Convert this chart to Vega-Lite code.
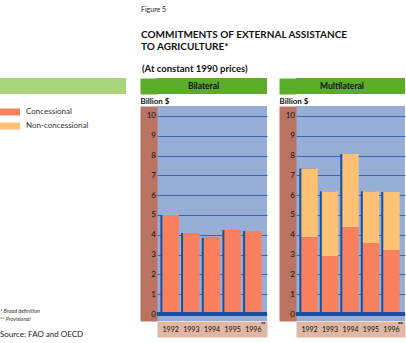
{
  "$schema": "https://vega.github.io/schema/vega-lite/v6.json",
  "padding": {"top": 5, "left": 0, "right": 0, "bottom": 0},
  "autosize": {"type": "pad"},
  "background": "white",
  "config": {
    "font": "Lato",
    "view": {"stroke": null},
    "text": {"font": "Lato"}
  },
  "title": {
    "text": "Figure 5",
    "subtitle": ["COMMITMENTS OF EXTERNAL ASSISTANCE", "TO AGRICULTURE*"],
    "anchor": "start",
    "frame": "group",
    "dx": 141,
    "font": "Lato",
    "fontSize": 7,
    "fontWeight": "normal",
    "color": "#222222",
    "subtitleFont": "Lato",
    "subtitleFontSize": 10,
    "subtitleFontWeight": "bold",
    "subtitleColor": "#111111",
    "subtitleLineHeight": 12.7,
    "subtitlePadding": 17,
    "offset": 11
  },
  "datasets": {
    "aid": [
      {"type": "Bilateral", "year": "1992", "kind": "Concessional", "value": 5.0},
      {"type": "Bilateral", "year": "1993", "kind": "Concessional", "value": 4.09},
      {"type": "Bilateral", "year": "1994", "kind": "Concessional", "value": 3.85},
      {"type": "Bilateral", "year": "1995", "kind": "Concessional", "value": 4.24},
      {"type": "Bilateral", "year": "1996", "kind": "Concessional", "value": 4.19},
      {"type": "Multilateral", "year": "1992", "kind": "Concessional", "value": 3.89},
      {"type": "Multilateral", "year": "1993", "kind": "Concessional", "value": 2.93},
      {"type": "Multilateral", "year": "1994", "kind": "Concessional", "value": 4.39},
      {"type": "Multilateral", "year": "1995", "kind": "Concessional", "value": 3.59},
      {"type": "Multilateral", "year": "1996", "kind": "Concessional", "value": 3.23},
      {"type": "Multilateral", "year": "1992", "kind": "Non-concessional", "value": 3.45},
      {"type": "Multilateral", "year": "1993", "kind": "Non-concessional", "value": 3.27},
      {"type": "Multilateral", "year": "1994", "kind": "Non-concessional", "value": 3.69},
      {"type": "Multilateral", "year": "1995", "kind": "Non-concessional", "value": 2.61},
      {"type": "Multilateral", "year": "1996", "kind": "Non-concessional", "value": 2.93}
    ]
  },
  "spacing": 14,
  "hconcat": [
    {
      "width": 126,
      "height": 16,
      "title": {
        "text": ["*      Broad definition", "**    Provisional"],
        "subtitle": "Source: FAO and OECD",
        "orient": "bottom",
        "anchor": "start",
        "font": "Lato",
        "fontSize": 5.5,
        "fontStyle": "italic",
        "fontWeight": "normal",
        "color": "#333333",
        "lineHeight": 8,
        "offset": 215,
        "subtitleFont": "Lato",
        "subtitleFontSize": 8,
        "subtitleColor": "#222222",
        "subtitlePadding": 8
      },
      "data": {"values": [{"panel": "legend"}]},
      "mark": {"type": "rect", "color": "#a9d67b"},
      "encoding": {}
    },
    {
      "spacing": 10,
      "title": {
        "text": "(At constant 1990 prices)",
        "anchor": "start",
        "frame": "group",
        "dx": -15,
        "offset": 5,
        "font": "Lato",
        "fontSize": 9.5,
        "fontWeight": "bold",
        "color": "#111111"
      },
      "hconcat": [
        {
          "spacing": 3,
          "vconcat": [
            {
              "width": 110,
              "height": 16,
              "view": {"fill": "#5bad29", "stroke": null},
              "data": {"values": [{"panel": "Bilateral"}]},
              "mark": {"type": "text", "fontSize": 8.5, "fontWeight": "bold", "color": "#111111", "dx": -8.5},
              "encoding": {
                "text": {"field": "panel"},
                "y": {"field": "panel", "type": "nominal", "axis": {"title": null, "labels": false, "ticks": false, "grid": false, "domain": true, "domainColor": "#5bad29", "domainWidth": 17, "offset": 8.5}}
              }
            },
            {
              "width": 110,
              "height": 215,
              "view": {"fill": "#97aed6", "stroke": null},
              "data": {"name": "aid"},
              "transform": [{"filter": "datum.type === 'Bilateral'"}],
              "resolve": {"axis": {"x": "independent", "y": "independent"}},
              "layer": [
                {
                  "mark": {"type": "bar", "color": "#1650a0", "xOffset": -2},
                  "encoding": {
                    "x": {
                      "field": "year", "type": "ordinal",
                      "scale": {"paddingInner": 0.2, "paddingOuter": 0.26},
                      "axis": {"orient": "bottom", "title": null, "labels": false, "domain": true, "domainColor": "#dfb8a5", "domainWidth": 16, "offset": 8, "ticks": false, "grid": false}
                    },
                    "y": {
                      "aggregate": "sum", "field": "value", "type": "quantitative",
                      "scale": {"domain": [-0.35, 10.5], "nice": false, "zero": false},
                      "axis": {"orient": "left", "title": "Billion $", "labels": false, "grid": false, "ticks": false, "domain": true, "domainColor": "#bb7363", "domainWidth": 17, "offset": 8.5, "titleAngle": 0, "titleAlign": "left", "titleBaseline": "alphabetic", "titleX": -8.5, "titleY": -3, "titleFontSize": 8, "titleFont": "Lato", "titleFontWeight": "bold", "titleColor": "#111111"}
                    }
                  }
                },
                {
                  "mark": {"type": "bar"},
                  "encoding": {
                    "x": {
                      "field": "year", "type": "ordinal",
                      "axis": {"orient": "bottom", "title": null, "domain": false, "ticks": false, "grid": false, "offset": 8, "labelPadding": 0, "labelBaseline": "middle", "labelAngle": 0, "labelFontSize": 7, "labelColor": "#111111", "labelFont": "Lato", "zindex": 1}
                    },
                    "y": {
                      "field": "value", "type": "quantitative", "stack": "zero",
                      "axis": {"orient": "left", "title": null, "values": [0,1,2,3,4,5,6,7,8,9,10], "labels": false, "domain": false, "ticks": false, "grid": true, "gridColor": "#3466b1", "gridWidth": 1, "zindex": 0}
                    },
                    "color": {
                      "field": "kind", "type": "nominal",
                      "scale": {"domain": ["Concessional", "Non-concessional"], "range": ["#f9805f", "#fdc173"]},
                      "legend": {"title": null, "orient": "none", "legendX": 0, "legendY": 24, "symbolType": "M-1,-0.35H1V0.35H-1Z", "symbolSize": 400, "symbolStrokeWidth": 0, "symbolOpacity": 1, "labelFontSize": 8, "labelFont": "Lato", "labelColor": "#333333", "labelOffset": 6, "rowPadding": -8, "padding": 0}
                    },
                    "order": {"field": "kind", "sort": "ascending"}
                  }
                },
                {
                  "mark": {"type": "rule", "color": "#1650a0", "strokeWidth": 3},
                  "encoding": {
                    "y": {
                      "datum": 0, "type": "quantitative",
                      "axis": {"orient": "left", "title": null, "values": [0,1,2,3,4,5,6,7,8,9,10], "labels": true, "domain": false, "ticks": false, "grid": false, "labelPadding": 1.5, "labelFontSize": 8, "labelColor": "#111111", "labelFont": "Lato", "zindex": 1}
                    }
                  }
                },
                {
                  "mark": {"type": "text", "text": "**", "fontSize": 5, "dx": 10, "clip": false, "color": "#555555"},
                  "encoding": {"x": {"datum": "1996", "axis": null}, "y": {"datum": -0.5, "axis": null}}
                }
              ]
            }
          ]
        },
        {
          "spacing": 3,
          "vconcat": [
            {
              "width": 109,
              "height": 16,
              "view": {"fill": "#5bad29", "stroke": null},
              "data": {"values": [{"panel": "Multilateral"}]},
              "mark": {"type": "text", "fontSize": 8.5, "fontWeight": "bold", "color": "#111111", "dx": -8.5},
              "encoding": {
                "text": {"field": "panel"},
                "y": {"field": "panel", "type": "nominal", "axis": {"title": null, "labels": false, "ticks": false, "grid": false, "domain": true, "domainColor": "#5bad29", "domainWidth": 17, "offset": 8.5}}
              }
            },
            {
              "width": 109,
              "height": 215,
              "view": {"fill": "#97aed6", "stroke": null},
              "data": {"name": "aid"},
              "transform": [{"filter": "datum.type === 'Multilateral'"}],
              "resolve": {"axis": {"x": "independent", "y": "independent"}},
              "layer": [
                {
                  "mark": {"type": "bar", "color": "#1650a0", "xOffset": -2},
                  "encoding": {
                    "x": {
                      "field": "year", "type": "ordinal",
                      "scale": {"paddingInner": 0.2, "paddingOuter": 0.26},
                      "axis": {"orient": "bottom", "title": null, "labels": false, "domain": true, "domainColor": "#dfb8a5", "domainWidth": 16, "offset": 8, "ticks": false, "grid": false}
                    },
                    "y": {
                      "aggregate": "sum", "field": "value", "type": "quantitative",
                      "scale": {"domain": [-0.35, 10.5], "nice": false, "zero": false},
                      "axis": {"orient": "left", "title": "Billion $", "labels": false, "grid": false, "ticks": false, "domain": true, "domainColor": "#bb7363", "domainWidth": 17, "offset": 8.5, "titleAngle": 0, "titleAlign": "left", "titleBaseline": "alphabetic", "titleX": -8.5, "titleY": -3, "titleFontSize": 8, "titleFont": "Lato", "titleFontWeight": "bold", "titleColor": "#111111"}
                    }
                  }
                },
                {
                  "mark": {"type": "bar"},
                  "encoding": {
                    "x": {
                      "field": "year", "type": "ordinal",
                      "axis": {"orient": "bottom", "title": null, "domain": false, "ticks": false, "grid": false, "offset": 8, "labelPadding": 0, "labelBaseline": "middle", "labelAngle": 0, "labelFontSize": 7, "labelColor": "#111111", "labelFont": "Lato", "zindex": 1}
                    },
                    "y": {
                      "field": "value", "type": "quantitative", "stack": "zero",
                      "axis": {"orient": "left", "title": null, "values": [0,1,2,3,4,5,6,7,8,9,10], "labels": false, "domain": false, "ticks": false, "grid": true, "gridColor": "#3466b1", "gridWidth": 1, "zindex": 0}
                    },
                    "color": {"field": "kind", "type": "nominal"},
                    "order": {"field": "kind", "sort": "ascending"}
                  }
                },
                {
                  "mark": {"type": "rule", "color": "#1650a0", "strokeWidth": 3},
                  "encoding": {
                    "y": {
                      "datum": 0, "type": "quantitative",
                      "axis": {"orient": "left", "title": null, "values": [0,1,2,3,4,5,6,7,8,9,10], "labels": true, "domain": false, "ticks": false, "grid": false, "labelPadding": 1.5, "labelFontSize": 8, "labelColor": "#111111", "labelFont": "Lato", "zindex": 1}
                    }
                  }
                },
                {
                  "mark": {"type": "text", "text": "**", "fontSize": 5, "dx": 9, "clip": false, "color": "#555555"},
                  "encoding": {"x": {"datum": "1996", "axis": null}, "y": {"datum": -0.5, "axis": null}}
                }
              ]
            }
          ]
        }
      ]
    }
  ]
}
